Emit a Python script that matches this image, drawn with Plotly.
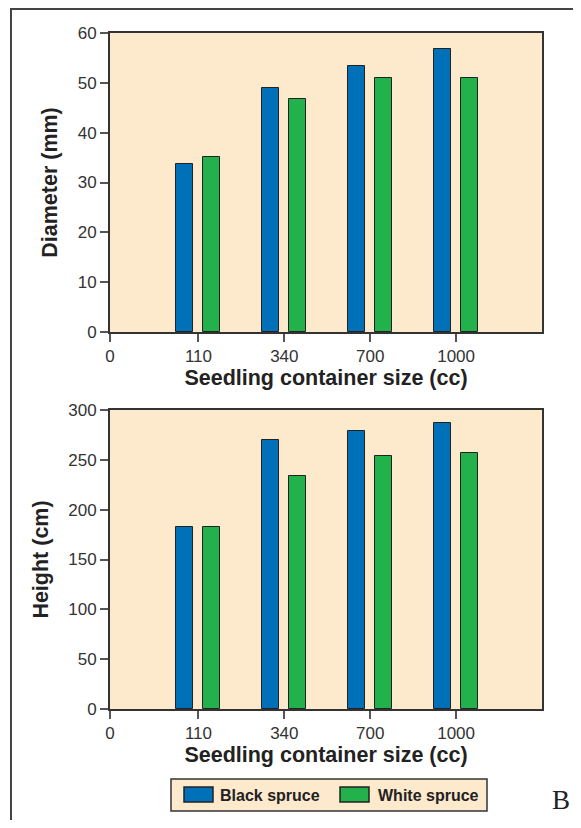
import plotly.graph_objects as go
from plotly.subplots import make_subplots

# ---- data ----
container_sizes = ["110", "340", "700", "1000"]
tick_labels = ["0", "110", "340", "700", "1000"]
series_names = ["Black spruce", "White spruce"]
diameter_black = [33.7, 48.9, 53.3, 56.8]
diameter_white = [35.1, 46.7, 50.9, 50.9]
height_black = [183, 270, 279, 287]
height_white = [182.5, 234, 254, 257]

colors = ["#0070B8", "#23B14B"]
peach = "#FDE9CC"
font_fam = "Liberation Sans, Arial, sans-serif"

# page body has an 8px margin; compensate in figure size / margins
W, H = 573, 812
ML, MR, MT, MB = 102, 39, 25, 111
PW = W - ML - MR
PH = H - MT - MB


def px_x(px):
    return (px - 8 - ML) / PW


def px_y(py):
    return (H - MB - (py - 8)) / PH


fig = make_subplots(rows=2, cols=1, vertical_spacing=(410 - 332) / PH)

xpos = list(range(1, len(container_sizes) + 1))
offsets = [-0.26, 0.055]
x_left = -0.03

for row, (blk, wht) in enumerate([(diameter_black, diameter_white),
                                    (height_black, height_white)], start=1):
    for i, vals in enumerate([blk, wht]):
        fig.add_trace(go.Bar(
            x=xpos, y=vals, name=series_names[i],
            marker=dict(color=colors[i], line=dict(color="#222222", width=1)),
            width=0.2, offset=offsets[i], showlegend=False,
        ), row=row, col=1)

axis_common = dict(
    showline=True, linecolor="#333333", linewidth=2, mirror=True,
    ticks="outside", ticklen=8, tickcolor="#555555", tickwidth=1.5,
    tickfont=dict(family=font_fam, size=17, color="#333333"),
    showgrid=False, zeroline=False,
)
title_font = dict(family=font_fam, size=21.5, color="#222222")

for r in (1, 2):
    fig.update_xaxes(
        range=[x_left, 5], tickvals=[x_left] + xpos, ticktext=tick_labels,
        title=dict(text="<b>Seedling container size (cc)</b>", font=title_font, standoff=4),
        row=r, col=1, **axis_common)

fig.update_yaxes(range=[0, 60], dtick=10,
                 title=dict(text="<b>Diameter (mm)</b>", font=title_font, standoff=14),
                 row=1, col=1, **axis_common)
fig.update_yaxes(range=[0, 300], dtick=50,
                 title=dict(text="<b>Height (cm)</b>", font=title_font, standoff=14),
                 row=2, col=1, **axis_common)

# custom legend
shapes = [
    dict(type="rect", xref="paper", yref="paper", x0=px_x(171), x1=px_x(487), y0=px_y(811), y1=px_y(779),
         fillcolor=peach, line=dict(color="#333333", width=1.5)),
    dict(type="rect", xref="paper", yref="paper", x0=px_x(184), x1=px_x(213), y0=px_y(802), y1=px_y(787),
         fillcolor=colors[0], line=dict(color="#222222", width=1.5)),
    dict(type="rect", xref="paper", yref="paper", x0=px_x(340), x1=px_x(369), y0=px_y(802), y1=px_y(787),
         fillcolor=colors[1], line=dict(color="#222222", width=1.5)),
    # outer frame
    dict(type="rect", xref="paper", yref="paper", x0=px_x(11), x1=px_x(700), y0=px_y(900), y1=px_y(9),
         line=dict(color="#444444", width=2)),
]
annotations = [
    dict(xref="paper", yref="paper", x=px_x(218), y=px_y(795), xanchor="left", yanchor="middle",
         text="<b>" + series_names[0] + "</b>", showarrow=False,
         font=dict(family=font_fam, size=16, color="#222222")),
    dict(xref="paper", yref="paper", x=px_x(376), y=px_y(795), xanchor="left", yanchor="middle",
         text="<b>" + series_names[1] + "</b>", showarrow=False,
         font=dict(family=font_fam, size=16, color="#222222")),
    dict(xref="paper", yref="paper", x=px_x(561), y=px_y(800), xanchor="center", yanchor="middle",
         text="B", showarrow=False, borderpad=0,
         font=dict(family="Liberation Serif, Times New Roman, serif", size=27, color="#222222")),
]

fig.update_layout(
    width=W, height=H,
    margin=dict(l=ML, r=MR, t=MT, b=MB),
    paper_bgcolor="white", plot_bgcolor=peach,
    bargap=0, shapes=shapes, annotations=annotations,
    showlegend=False,
)

fig.write_html("out.html")
